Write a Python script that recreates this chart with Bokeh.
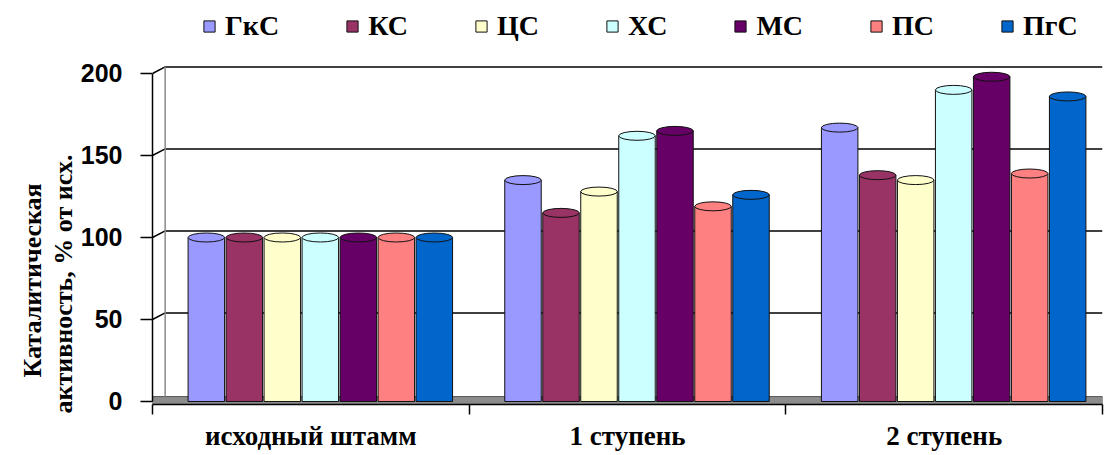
from bokeh.plotting import figure
from bokeh.models import (ColumnDataSource, FixedTicker, Legend, LegendItem,
                          Range1d, Title)
from bokeh.embed import file_html
from bokeh.resources import INLINE

groups = ["исходный штамм", "1 ступень", "2 ступень"]
series = ["ГкС", "КС", "ЦС", "ХС", "МС", "ПС", "ПгС"]
colors = ["#9999FF", "#993366", "#FFFFCC", "#CCFFFF", "#660066", "#FF8080", "#0066CC"]

gks = [100, 135, 167]
ks = [100, 115, 138]
cs = [100, 128, 135]
hs = [100, 162, 190]
ms = [100, 165, 198]
ps = [100, 119, 139]
pgs = [100, 126, 186]
all_values = [gks, ks, cs, hs, ms, ps, pgs]

y_ticks = [0, 50, 100, 150, 200]
y_title = ["Каталитическая", "активность, % от исх."]

SERIF = "Liberation Serif"
SERIF_G = "serif"
SANS = "Liberation Sans"

p = figure(width=1108, height=455, x_range=Range1d(0, 3), y_range=Range1d(-1.83, 244.5),
           output_backend="svg", toolbar_location=None,
           min_border_left=152, min_border_right=6, min_border_top=0, min_border_bottom=51)
p.outline_line_color = None
p.background_fill_color = "white"
p.border_fill_color = "white"
p.xgrid.visible = False
p.ygrid.visible = False

depth = 0.04   # 3-D depth offset in x (group units)
rise = 4.0     # 3-D depth offset in y (value units)

# back-wall gridlines and their connectors to the axis ticks
grid_src = ColumnDataSource(dict(t=[t + rise for t in y_ticks[1:]], f=y_ticks[1:]))
p.segment(x0=depth, y0="t", x1=3, y1="t", source=grid_src, line_color="black", line_width=1.5)
p.segment(x0=0, y0="f", x1=depth, y1="t", source=grid_src, line_color="black", line_width=1.5)

# floor and back wall left edge
p.quad(left=0, right=3, bottom=-1.8, top=rise - 1, fill_color="#8c8c8c", line_color="#555555", line_width=1)
p.segment(x0=depth, y0=rise - 1, x1=depth, y1=y_ticks[-1] + rise, line_color="#8a8a8a", line_width=1.5)

n = len(series)
bw = 0.12
renderers = []
for i, (name, col, vals) in enumerate(zip(series, colors, all_values)):
    xs = [g + 0.5 + 0.03 + (i - (n - 1) / 2) * bw for g in range(len(groups))]
    src = ColumnDataSource(dict(x=xs, top=vals))
    r = p.vbar(x="x", top="top", bottom=0, width=bw * 0.96, source=src,
               fill_color=col, line_color="#111111", line_width=1)
    p.ellipse(x="x", y="top", width=bw * 0.96, height=9, height_units="screen", source=src,
              fill_color=col, line_color="#111111", line_width=1)
    renderers.append(r)

# axes
p.yaxis.ticker = FixedTicker(ticks=y_ticks, minor_ticks=[])
p.yaxis.bounds = (0, 200)
p.yaxis.major_tick_out = 12
p.yaxis.major_tick_in = 0
p.yaxis.major_tick_line_width = 1.5
p.yaxis.axis_line_width = 1.5
p.yaxis.major_label_text_font = SANS
p.yaxis.major_label_text_font_style = "bold"
p.yaxis.major_label_text_font_size = "25px"
p.yaxis.major_label_text_color = "black"
p.yaxis.major_label_standoff = 18

p.xaxis.ticker = FixedTicker(ticks=[0.5, 1.5, 2.5], minor_ticks=[0, 1, 2, 3])
p.xaxis.major_label_overrides = {0.5: groups[0], 1.5: groups[1], 2.5: groups[2]}
p.xaxis.major_tick_line_color = None
p.xaxis.minor_tick_out = 10
p.xaxis.minor_tick_in = 0
p.xaxis.minor_tick_line_width = 1.5
p.xaxis.axis_line_width = 1.5
p.xaxis.major_label_text_font = SERIF_G
p.xaxis.major_label_text_font_style = "bold"
p.xaxis.major_label_text_font_size = "27px"
p.xaxis.major_label_text_color = "black"
p.xaxis.major_label_standoff = 6

# y-axis title, two lines, as left-side titles (inner line first)
p.add_layout(Title(text=y_title[1], text_font=SERIF_G, text_font_style="bold",
                   text_font_size="26px", text_color="black", align="left", offset=-9,
                   standoff=0), "left")
p.add_layout(Title(text=y_title[0], text_font=SERIF_G, text_font_style="bold",
                   text_font_size="26px", text_color="black", align="left", offset=27,
                   standoff=0), "left")

legend = Legend(items=[LegendItem(label=s, renderers=[r]) for s, r in zip(series, renderers)],
                orientation="horizontal", location=(50, 362),
                label_text_font=SERIF, label_text_font_style="bold", label_text_font_size="28px",
                label_text_color="black",
                glyph_width=14, glyph_height=14, label_standoff=9, spacing=66,
                border_line_color=None, background_fill_alpha=0, padding=2, margin=0)
p.add_layout(legend)

open("out.html", "w").write(file_html(p, INLINE))
